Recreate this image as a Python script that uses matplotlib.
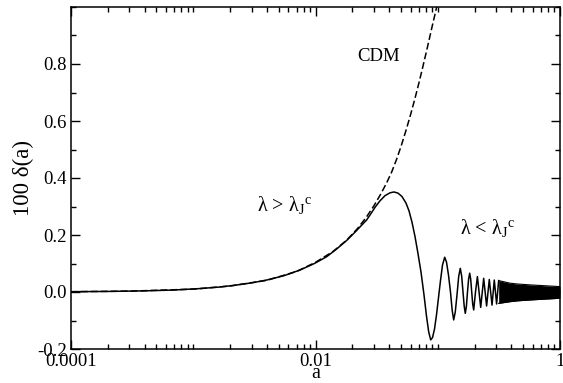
#!python3
import numpy as np
import matplotlib
matplotlib.use('Agg')
from matplotlib import pyplot as plt
from matplotlib.ticker import LogLocator, NullFormatter, MultipleLocator

## solid curve: 100 delta(a)
sol_a = [1e-4, 2e-4, 4e-4, 7e-4, 0.00113, 0.0016, 0.00213, 0.003, 0.00399,
         0.0055, 0.00746, 0.0098, 0.01236, 0.015, 0.018, 0.0215, 0.02623,
         0.02791, 0.03067, 0.0337, 0.03703, 0.04069, 0.04386, 0.04728,
         0.05098, 0.05498, 0.05817, 0.06156, 0.06513, 0.06891, 0.07295,
         0.07718, 0.08091, 0.08433, 0.08756, 0.0906, 0.09406, 0.09768,
         0.1014, 0.1053, 0.1094, 0.1140, 0.1179, 0.1224, 0.1271, 0.1313,
         0.1350, 0.1391, 0.1437, 0.1484, 0.1529, 0.1570, 0.1609, 0.1646,
         0.1680, 0.1715, 0.1751, 0.1788, 0.1825, 0.1860, 0.1896, 0.1932,
         0.1968, 0.2036, 0.211, 0.2246, 0.2375, 0.251, 0.264, 0.278, 0.290,
         0.303, 0.315]
sol_d = [0.001, 0.002, 0.004, 0.007, 0.012, 0.017, 0.023, 0.032, 0.042,
         0.057, 0.077, 0.100, 0.124, 0.152, 0.181, 0.214, 0.253,
         0.270, 0.297, 0.320, 0.338, 0.348, 0.351, 0.347,
         0.335, 0.312, 0.285, 0.245, 0.195, 0.135, 0.070,
         -0.010, -0.085, -0.140, -0.168, -0.160, -0.130, -0.080,
         -0.020, 0.040, 0.095, 0.122, 0.105, 0.060, 0.000, -0.065,
         -0.098, -0.070, -0.010, 0.055, 0.083, 0.055, 0.000, -0.050,
         -0.075, -0.050, 0.000, 0.045, 0.066, 0.045, 0.000, -0.043,
         -0.063, 0.000, 0.054, -0.054, 0.048, -0.049, 0.044, -0.046, 0.042,
         -0.042, 0.040]

## unresolved fast oscillations: upper/lower envelope of the black band
band_a = [0.315, 0.39, 0.45, 0.57, 0.75, 1.0]
band_hi = [0.040, 0.031, 0.028, 0.025, 0.022, 0.019]
band_lo = [-0.040, -0.034, -0.031, -0.028, -0.025, -0.022]

## CDM (dashed)
cdm_a = [1e-4, 3e-4, 1e-3, 0.002, 0.004, 0.007, 0.01, 0.014, 0.018, 0.022,
         0.026, 0.030, 0.034, 0.038, 0.042, 0.046, 0.050, 0.055, 0.060,
         0.065, 0.070, 0.075, 0.080, 0.085, 0.090, 0.095, 0.098]
cdm_d = [0.001, 0.003, 0.010, 0.021, 0.041, 0.072, 0.104, 0.143, 0.182,
         0.222, 0.262, 0.302, 0.342, 0.381, 0.421, 0.465, 0.510, 0.567,
         0.623, 0.678, 0.732, 0.785, 0.836, 0.885, 0.932, 0.975, 1.000]

xticks = [1e-4, 1e-2, 1]
xticklabels = ['0.0001', '0.01', '1']
yticks = [-0.2, 0.0, 0.2, 0.4, 0.6, 0.8]
yticklabels = ['-0.2', '0.0', '0.2', '0.4', '0.6', '0.8']

plt.rcParams['font.family'] = ['Liberation Serif', 'DejaVu Serif']
plt.rcParams['mathtext.fontset'] = 'custom'
plt.rcParams['mathtext.rm'] = 'Liberation Serif'
plt.rcParams['mathtext.it'] = 'Liberation Serif'

fig = plt.figure(figsize=(5.63, 3.83), dpi=100)
ax = fig.add_axes([71/563, 1-349/383, 489/563, 342/383])

ax.plot(cdm_a, cdm_d, color='k', lw=1.1, ls=(0, (4.5, 2.0)), zorder=2)
ax.plot(sol_a, sol_d, color='k', lw=1.1, zorder=3)
ax.fill_between(band_a, band_lo, band_hi, color='k', lw=0, zorder=3)
ax.plot(band_a, band_hi, color='k', lw=0.8, zorder=3)
ax.plot(band_a, band_lo, color='k', lw=0.8, zorder=3)

ax.set_xscale('log')
ax.set_xlim(1e-4, 1)
ax.set_ylim(-0.2, 1.0)
ax.set_xticks(xticks)
ax.set_xticklabels(xticklabels)
ax.xaxis.set_minor_locator(LogLocator(base=10, subs=np.arange(1, 10), numticks=50))
ax.xaxis.set_minor_formatter(NullFormatter())
ax.set_yticks(yticks)
ax.set_yticklabels(yticklabels)
ax.yaxis.set_minor_locator(MultipleLocator(0.1))

ax.tick_params(which='both', direction='in', top=True, right=True,
               labelsize=13.5, width=1.0)
ax.tick_params(which='major', length=6.5)
ax.tick_params(which='minor', length=3.6)
ax.tick_params(axis='x', pad=3)
ax.tick_params(axis='y', pad=3)
for s in ax.spines.values():
    s.set_linewidth(1.1)

ax.set_xlabel('a', fontsize=14.5, labelpad=-4.5)
ax.set_ylabel('100 \u03b4(a)', fontsize=16.5, labelpad=2)

ax.text(0.033, 0.828, 'CDM', fontsize=13.5, ha='center', va='center')
ax.text(0.00335, 0.305, 'λ > λ$_{J}{}^{c}$', fontsize=14.5,
        ha='left', va='center')
ax.text(0.152, 0.224, 'λ < λ$_{J}{}^{c}$', fontsize=14.5,
        ha='left', va='center')

plt.savefig('out.png', dpi=100)
